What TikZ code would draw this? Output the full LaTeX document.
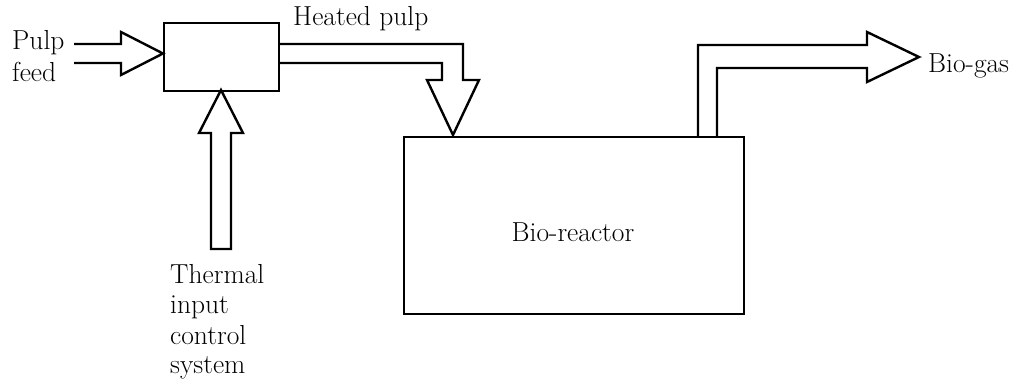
\documentclass[tikz,border=0pt]{standalone}
\begin{document}
\begin{tikzpicture}[x=1pt,y=-1pt,line width=2.4pt,line join=miter,
  blk/.style={draw,line width=2.4pt,inner sep=0pt,anchor=north west},
  lbl/.style={inner sep=0pt,anchor=base west,font=\fontsize{27.5}{30}\selectfont},
  pipe/.style={draw,line width=2.4pt}]
\useasboundingbox (0,0) rectangle (1027,385);
\node[blk,minimum width=115pt,minimum height=68pt] (heater) at (163,22) {};
\node[blk,minimum width=340pt,minimum height=177pt] (reactor) at (403,136) {};
\node[inner sep=0pt,anchor=base,font=\fontsize{27.5}{30}\selectfont] (rlabel) at (573,241) {Bio-reactor};
% pulp feed
\coordinate (pf1) at (74,44);
\coordinate (pf2) at (74,63);
\draw[pipe] (pf1) -- (121,44) -- (121,32) -- (163,53.5) -- (121,75) -- (121,63) -- (pf2);
\node[lbl] (pulp) at (11,50) {Pulp};
\node[lbl] (feed) at (11,82) {feed};
% thermal input
\draw[pipe] (211,249) -- (211,133) -- (199,133) -- (221,90) -- (243,133) -- (231,133) -- (231,249) -- cycle;
\node[lbl] (t1) at (169,283) {Thermal};
\node[lbl] (t2) at (169,313) {input};
\node[lbl] (t3) at (169,344) {control};
\node[lbl] (t4) at (169,373) {system};
% heated pulp
\draw[pipe] (278,44) -- (463,44) -- (463,80) -- (479,80) -- (453,135) -- (427,80) -- (442,80) -- (442,63) -- (278,63);
\node[lbl] (hp) at (292,26) {Heated pulp};
% bio-gas
\draw[pipe] (698,136) -- (698,45) -- (867,45) -- (867,32) -- (919,57) -- (867,82) -- (867,68) -- (717,68) -- (717,136);
\node[lbl] (bg) at (927,73) {Bio-gas};
\end{tikzpicture}
\end{document}
